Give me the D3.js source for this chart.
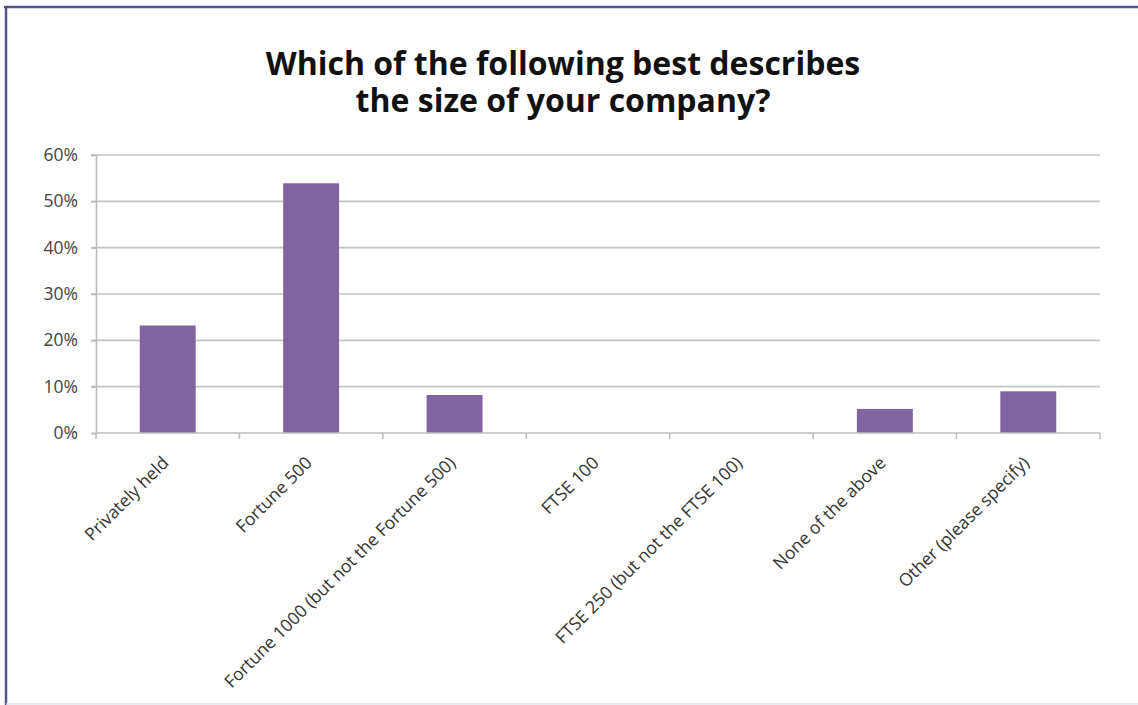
<!DOCTYPE html>
<html><head><meta charset="utf-8">
<script src="https://cdn.jsdelivr.net/npm/d3@7"></script>
<style>
html,body{margin:0;padding:0;background:#fff;}
svg{display:block;}
</style></head>
<body>
<svg id="chart" width="1138" height="705"></svg>
<script>
const categories = ["Privately held","Fortune 500","Fortune 1000 (but not the Fortune 500)","FTSE 100","FTSE 250 (but not the FTSE 100)","None of the above","Other (please specify)"];
const values = [0.232, 0.539, 0.082, 0, 0, 0.052, 0.090];
const yTicks = [0, 0.1, 0.2, 0.3, 0.4, 0.5, 0.6];
const titleLines = ["Which of the following best describes","the size of your company?"];

const W = 1138, H = 705;
const svg = d3.select("#chart");
const margin = {left: 96, right: 38, top: 155, bottom: 272};

const x = d3.scaleBand().domain(categories).range([margin.left, W - margin.right]).paddingInner(0.61).paddingOuter(0.305);
const xEdge = d3.scaleLinear().domain([0, categories.length]).range([margin.left, W - margin.right]);
const y = d3.scaleLinear().domain([0, 0.6]).range([H - margin.bottom, margin.top]);

// frame
svg.append("line").attr("x1", 4).attr("x2", W).attr("y1", 7).attr("y2", 7).attr("stroke", "#55558c").attr("stroke-width", 2.5);
svg.append("line").attr("x1", 6).attr("x2", 6).attr("y1", 6).attr("y2", H).attr("stroke", "#55558c").attr("stroke-width", 2.5);
svg.append("line").attr("x1", 6).attr("x2", W).attr("y1", 704).attr("y2", 704).attr("stroke", "#e2e2ee").attr("stroke-width", 1.5);

// title (two separate lines)
svg.append("g").selectAll("text").data(titleLines).join("text")
  .attr("text-anchor", "middle")
  .attr("font-family", "'Open Sans', Lato, sans-serif").attr("font-weight", 700)
  .attr("font-size", 32).attr("fill", "#111")
  .attr("x", 563).attr("y", (d, i) => 75 + i * 36.5)
  .text(d => d);

// gridlines
svg.append("g").selectAll("line").data(yTicks.filter(d => d > 0)).join("line")
  .attr("x1", margin.left - 5).attr("x2", W - margin.right)
  .attr("y1", d => y(d)).attr("y2", d => y(d))
  .attr("stroke", "#c4c4c4").attr("stroke-width", 1.6);

// y axis
const yAxis = d3.axisLeft(y).tickValues(yTicks).tickFormat(d3.format(".0%")).tickSize(5).tickPadding(13);
const gy = svg.append("g").attr("transform", `translate(${margin.left},0)`).call(yAxis);
gy.select(".domain").attr("stroke", "#bdbdbd").attr("stroke-width", 1.6);
gy.selectAll(".tick line").attr("stroke", "#bdbdbd").attr("stroke-width", 1.6);
gy.selectAll(".tick text").attr("font-family", "'Open Sans', sans-serif").attr("font-size", 17.5).attr("fill", "#444");

// bars
svg.append("g").selectAll("rect").data(values).join("rect")
  .attr("x", (d, i) => x(categories[i]))
  .attr("width", x.bandwidth())
  .attr("y", d => y(d))
  .attr("height", d => y(0) - y(d))
  .attr("fill", "#8064a2");

// x axis
const gx = svg.append("g");
gx.append("line").attr("x1", margin.left).attr("x2", W - margin.right)
  .attr("y1", y(0)).attr("y2", y(0)).attr("stroke", "#bdbdbd").attr("stroke-width", 1.6);
gx.selectAll("line.tk").data(d3.range(categories.length + 1)).join("line").attr("class", "tk")
  .attr("x1", d => xEdge(d)).attr("x2", d => xEdge(d))
  .attr("y1", y(0)).attr("y2", y(0) + 6).attr("stroke", "#bdbdbd").attr("stroke-width", 1.6);

gx.selectAll("text").data(categories).join("text")
  .attr("text-anchor", "end")
  .attr("font-family", "'Open Sans', sans-serif").attr("font-size", 17.5).attr("fill", "#333")
  .attr("transform", d => `translate(${x(d) + x.bandwidth() / 2 + 2},${y(0) + 31}) rotate(-45)`)
  .text(d => d);
</script>
</body></html>
